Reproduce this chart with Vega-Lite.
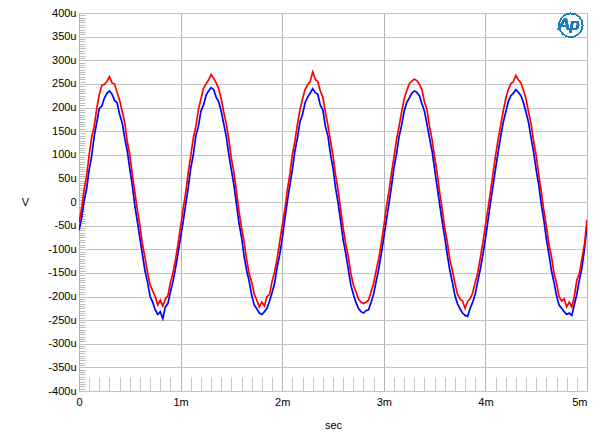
{
  "$schema": "https://vega.github.io/schema/vega-lite/v6.json",
  "width": 508,
  "height": 378,
  "autosize": {"type": "none"},
  "padding": {"left": 79, "top": 13, "right": 13, "bottom": 45},
  "background": "white",
  "config": {
    "view": {"stroke": "#a0a0a0", "strokeWidth": 1},
    "font": "Liberation Sans",
    "axis": {"labelFont": "Liberation Sans", "titleFont": "Liberation Sans", "labelColor": "#000", "titleColor": "#000", "titleFontWeight": "normal"}
  },
  "data": {"values": [
    {"t":0,"r":-45,"b":-60},{"t":0.025,"r":-14,"b":-35},{"t":0.05,"r":25,"b":2},{"t":0.075,"r":55,"b":28},{"t":0.1,"r":100,"b":68},
    {"t":0.125,"r":138,"b":98},{"t":0.15,"r":160,"b":140},{"t":0.175,"r":198,"b":168},{"t":0.2,"r":228,"b":198},{"t":0.225,"r":247,"b":203},
    {"t":0.25,"r":249,"b":220},{"t":0.275,"r":255,"b":230},{"t":0.3,"r":265,"b":235},{"t":0.325,"r":252,"b":228},{"t":0.35,"r":250,"b":215},
    {"t":0.375,"r":232,"b":210},{"t":0.4,"r":215,"b":185},{"t":0.425,"r":192,"b":168},{"t":0.45,"r":168,"b":135},{"t":0.475,"r":128,"b":108},
    {"t":0.5,"r":100,"b":70},{"t":0.525,"r":58,"b":35},{"t":0.55,"r":20,"b":-8},{"t":0.575,"r":-18,"b":-42},{"t":0.6,"r":-50,"b":-78},
    {"t":0.625,"r":-90,"b":-112},{"t":0.65,"r":-118,"b":-146},{"t":0.675,"r":-150,"b":-170},{"t":0.7,"r":-175,"b":-200},{"t":0.725,"r":-188,"b":-212},
    {"t":0.75,"r":-200,"b":-228},{"t":0.775,"r":-218,"b":-238},{"t":0.8,"r":-208,"b":-232},{"t":0.825,"r":-220,"b":-247},{"t":0.85,"r":-205,"b":-222},
    {"t":0.875,"r":-198,"b":-215},{"t":0.9,"r":-170,"b":-190},{"t":0.925,"r":-150,"b":-168},{"t":0.95,"r":-122,"b":-140},{"t":0.975,"r":-88,"b":-108},
    {"t":1.0,"r":-52,"b":-75},{"t":1.025,"r":-15,"b":-42},{"t":1.05,"r":20,"b":-5},{"t":1.075,"r":62,"b":30},{"t":1.1,"r":98,"b":72},
    {"t":1.125,"r":135,"b":100},{"t":1.15,"r":160,"b":140},{"t":1.175,"r":195,"b":160},{"t":1.2,"r":218,"b":192},{"t":1.225,"r":240,"b":205},
    {"t":1.25,"r":250,"b":225},{"t":1.275,"r":258,"b":235},{"t":1.3,"r":270,"b":242},{"t":1.325,"r":262,"b":238},{"t":1.35,"r":252,"b":222},
    {"t":1.375,"r":240,"b":212},{"t":1.4,"r":218,"b":192},{"t":1.425,"r":190,"b":165},{"t":1.45,"r":165,"b":138},{"t":1.475,"r":132,"b":100},
    {"t":1.5,"r":92,"b":68},{"t":1.525,"r":62,"b":36},{"t":1.55,"r":22,"b":-5},{"t":1.575,"r":-20,"b":-45},{"t":1.6,"r":-55,"b":-75},
    {"t":1.625,"r":-85,"b":-115},{"t":1.65,"r":-122,"b":-145},{"t":1.675,"r":-152,"b":-168},{"t":1.7,"r":-170,"b":-198},{"t":1.725,"r":-195,"b":-218},
    {"t":1.75,"r":-208,"b":-226},{"t":1.775,"r":-222,"b":-235},{"t":1.8,"r":-212,"b":-238},{"t":1.825,"r":-220,"b":-232},{"t":1.85,"r":-200,"b":-225},
    {"t":1.875,"r":-196,"b":-210},{"t":1.9,"r":-168,"b":-192},{"t":1.925,"r":-148,"b":-172},{"t":1.95,"r":-120,"b":-138},{"t":1.975,"r":-85,"b":-112},
    {"t":2.0,"r":-50,"b":-78},{"t":2.025,"r":-18,"b":-38},{"t":2.05,"r":24,"b":0},{"t":2.075,"r":58,"b":35},{"t":2.1,"r":100,"b":68},
    {"t":2.125,"r":128,"b":108},{"t":2.15,"r":165,"b":135},{"t":2.175,"r":195,"b":170},{"t":2.2,"r":218,"b":185},{"t":2.225,"r":238,"b":210},
    {"t":2.25,"r":248,"b":222},{"t":2.275,"r":255,"b":230},{"t":2.3,"r":275,"b":240},{"t":2.325,"r":260,"b":232},{"t":2.35,"r":255,"b":228},
    {"t":2.375,"r":235,"b":205},{"t":2.4,"r":222,"b":195},{"t":2.425,"r":190,"b":160},{"t":2.45,"r":162,"b":140},{"t":2.475,"r":130,"b":102},
    {"t":2.5,"r":98,"b":72},{"t":2.525,"r":58,"b":30},{"t":2.55,"r":25,"b":-2},{"t":2.575,"r":-15,"b":-40},{"t":2.6,"r":-55,"b":-80},
    {"t":2.625,"r":-88,"b":-108},{"t":2.65,"r":-115,"b":-142},{"t":2.675,"r":-150,"b":-175},{"t":2.7,"r":-175,"b":-195},{"t":2.725,"r":-190,"b":-212},
    {"t":2.75,"r":-205,"b":-225},{"t":2.775,"r":-212,"b":-232},{"t":2.8,"r":-215,"b":-235},{"t":2.825,"r":-212,"b":-230},{"t":2.85,"r":-208,"b":-228},
    {"t":2.875,"r":-190,"b":-212},{"t":2.9,"r":-172,"b":-195},{"t":2.925,"r":-145,"b":-168},{"t":2.95,"r":-120,"b":-142},{"t":2.975,"r":-88,"b":-110},
    {"t":3.0,"r":-52,"b":-75},{"t":3.025,"r":-12,"b":-40},{"t":3.05,"r":22,"b":-5},{"t":3.075,"r":60,"b":32},{"t":3.1,"r":95,"b":72},
    {"t":3.125,"r":132,"b":102},{"t":3.15,"r":160,"b":138},{"t":3.175,"r":190,"b":162},{"t":3.2,"r":218,"b":192},{"t":3.225,"r":235,"b":210},
    {"t":3.25,"r":250,"b":220},{"t":3.275,"r":256,"b":230},{"t":3.3,"r":260,"b":235},{"t":3.325,"r":257,"b":232},{"t":3.35,"r":250,"b":225},
    {"t":3.375,"r":238,"b":208},{"t":3.4,"r":212,"b":192},{"t":3.425,"r":195,"b":165},{"t":3.45,"r":160,"b":135},{"t":3.475,"r":132,"b":108},
    {"t":3.5,"r":95,"b":70},{"t":3.525,"r":62,"b":32},{"t":3.55,"r":20,"b":-5},{"t":3.575,"r":-15,"b":-42},{"t":3.6,"r":-55,"b":-75},
    {"t":3.625,"r":-85,"b":-112},{"t":3.65,"r":-122,"b":-145},{"t":3.675,"r":-145,"b":-170},{"t":3.7,"r":-172,"b":-198},{"t":3.725,"r":-195,"b":-215},
    {"t":3.75,"r":-205,"b":-226},{"t":3.775,"r":-210,"b":-235},{"t":3.8,"r":-225,"b":-240},{"t":3.825,"r":-210,"b":-242},{"t":3.85,"r":-205,"b":-225},
    {"t":3.875,"r":-192,"b":-212},{"t":3.9,"r":-170,"b":-195},{"t":3.925,"r":-150,"b":-168},{"t":3.95,"r":-118,"b":-142},{"t":3.975,"r":-86,"b":-112},
    {"t":4.0,"r":-50,"b":-78},{"t":4.025,"r":-15,"b":-40},{"t":4.05,"r":22,"b":-2},{"t":4.075,"r":60,"b":34},{"t":4.1,"r":98,"b":70},
    {"t":4.125,"r":132,"b":105},{"t":4.15,"r":162,"b":138},{"t":4.175,"r":192,"b":168},{"t":4.2,"r":218,"b":190},{"t":4.225,"r":238,"b":212},
    {"t":4.25,"r":250,"b":225},{"t":4.275,"r":255,"b":230},{"t":4.3,"r":268,"b":238},{"t":4.325,"r":258,"b":232},{"t":4.35,"r":252,"b":225},
    {"t":4.375,"r":236,"b":210},{"t":4.4,"r":218,"b":190},{"t":4.425,"r":190,"b":168},{"t":4.45,"r":165,"b":135},{"t":4.475,"r":128,"b":105},
    {"t":4.5,"r":98,"b":68},{"t":4.525,"r":58,"b":36},{"t":4.55,"r":22,"b":-5},{"t":4.575,"r":-18,"b":-38},{"t":4.6,"r":-50,"b":-78},
    {"t":4.625,"r":-90,"b":-110},{"t":4.65,"r":-115,"b":-145},{"t":4.675,"r":-150,"b":-170},{"t":4.7,"r":-172,"b":-198},{"t":4.725,"r":-200,"b":-218},
    {"t":4.75,"r":-210,"b":-225},{"t":4.775,"r":-205,"b":-232},{"t":4.8,"r":-222,"b":-238},{"t":4.825,"r":-212,"b":-235},{"t":4.85,"r":-222,"b":-240},
    {"t":4.875,"r":-200,"b":-218},{"t":4.9,"r":-165,"b":-195},{"t":4.925,"r":-152,"b":-165},{"t":4.95,"r":-120,"b":-140},{"t":4.975,"r":-90,"b":-100},
    {"t":5.0,"r":-38,"b":-50}
  ]},
  "resolve": {"axis": {"x": "independent", "y": "independent"}},
  "layer": [
    {
      "mark": {"type": "line", "color": "#0000ff", "strokeWidth": 1.7, "clip": true},
      "encoding": {
        "x": {"field": "t", "type": "quantitative", "scale": {"domain": [0, 5], "nice": false, "zero": false},
          "axis": {"orient": "bottom", "values": [0, 1, 2, 3, 4, 5], "labelExpr": "datum.value == 0 ? '0' : datum.value + 'm'",
            "grid": true, "gridColor": "#b4b4b4", "gridWidth": 1, "domain": false, "ticks": false, "labelPadding": 5,
            "labelFontSize": 11, "labelAlign": {"condition": {"test": "datum.value >= 5", "value": "right"}, "value": "center"},
            "title": "sec", "titleFontSize": 11, "titlePadding": 12}},
        "y": {"field": "b", "type": "quantitative", "scale": {"domain": [-400, 400], "nice": false, "zero": false},
          "axis": {"orient": "left", "values": [-400,-350,-300,-250,-200,-150,-100,-50,0,50,100,150,200,250,300,350,400],
            "labelExpr": "datum.value == 0 ? '0' : datum.value + 'u'", "grid": true, "gridColor": "#c4c4c4", "gridWidth": 1,
            "domain": false, "ticks": false, "labelPadding": 3, "labelFontSize": 11,
            "title": "V", "titleAngle": 0, "titleFontSize": 11, "titleX": -54, "titleY": 189, "titleAlign": "center", "titleBaseline": "middle"}}
      }
    },
    {
      "mark": {"type": "line", "color": "#ff0000", "strokeWidth": 1.7, "clip": true},
      "encoding": {
        "x": {"field": "t", "type": "quantitative",
          "axis": {"orient": "bottom", "values": [0.1,0.2,0.3,0.4,0.5,0.6,0.7,0.8,0.9,1.1,1.2,1.3,1.4,1.5,1.6,1.7,1.8,1.9,2.1,2.2,2.3,2.4,2.5,2.6,2.7,2.8,2.9,3.1,3.2,3.3,3.4,3.5,3.6,3.7,3.8,3.9,4.1,4.2,4.3,4.4,4.5,4.6,4.7,4.8,4.9],
            "labels": false, "grid": false, "domain": false, "ticks": true, "tickSize": -14, "tickColor": "#c8c8c8", "tickWidth": 1, "title": null}},
        "y": {"field": "r", "type": "quantitative",
          "axis": {"orient": "left", "values": [-395,-390,-385,-380,-375,-370,-365,-360,-355,-345,-340,-335,-330,-325,-320,-315,-310,-305,-295,-290,-285,-280,-275,-270,-265,-260,-255,-245,-240,-235,-230,-225,-220,-215,-210,-205,-195,-190,-185,-180,-175,-170,-165,-160,-155,-145,-140,-135,-130,-125,-120,-115,-110,-105,-95,-90,-85,-80,-75,-70,-65,-60,-55,-45,-40,-35,-30,-25,-20,-15,-10,-5,5,10,15,20,25,30,35,40,45,55,60,65,70,75,80,85,90,95,105,110,115,120,125,130,135,140,145,155,160,165,170,175,180,185,190,195,205,210,215,220,225,230,235,240,245,255,260,265,270,275,280,285,290,295,305,310,315,320,325,330,335,340,345,355,360,365,370,375,380,385,390,395],
            "labels": false, "grid": false, "domain": false, "ticks": true, "tickSize": -6, "tickColor": "#bcbcbc", "tickWidth": 1, "title": null}}
      }
    },
    {
      "mark": {"type": "text", "text": "Ap", "font": "Liberation Sans", "fontSize": 17, "fontStyle": "italic", "fontWeight": "normal", "color": "#1f7ab8", "align": "center", "baseline": "middle"},
      "encoding": {"x": {"datum": 4.82, "type": "quantitative", "axis": null}, "y": {"datum": 374, "type": "quantitative", "axis": null}}
    },
    {
      "mark": {"type": "point", "shape": "circle", "size": 560, "filled": false, "color": "#1f7ab8", "strokeWidth": 1, "opacity": 0.6},
      "encoding": {"x": {"datum": 4.84, "type": "quantitative", "axis": null}, "y": {"datum": 374, "type": "quantitative", "axis": null}}
    }
  ]
}
